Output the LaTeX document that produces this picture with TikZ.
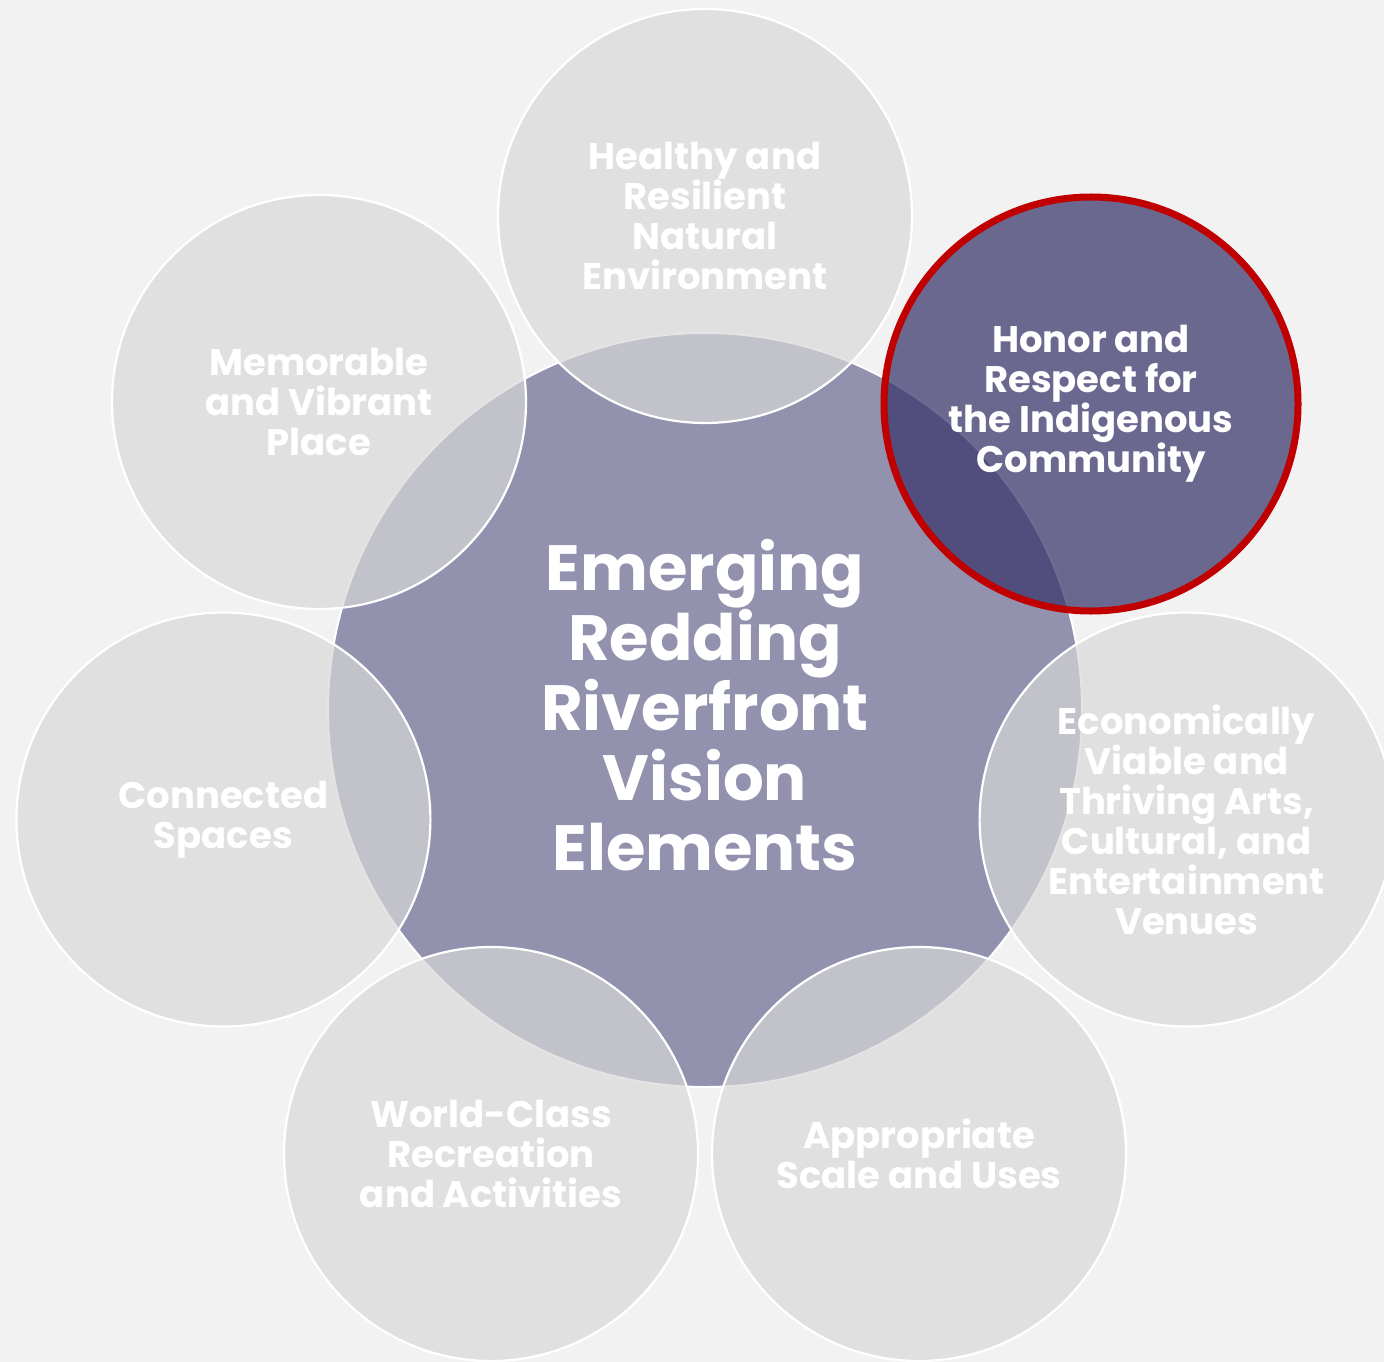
\documentclass[tikz,border=0pt]{standalone}
\usepackage{fontspec}
\setmainfont{Poppins}
\definecolor{bgcol}{RGB}{242,242,242}
\definecolor{centerpurple}{RGB}{146,145,174}
\definecolor{outergray}{RGB}{216,216,216}
\definecolor{honorfill}{RGB}{56,52,107}
\definecolor{honorred}{RGB}{192,0,0}
\begin{document}
\begin{tikzpicture}[x=1bp,y=-1bp,
  hub/.style={circle, minimum size=754bp, inner sep=0pt, fill=centerpurple, draw=white, line width=2bp},
  hubtext/.style={text=white, align=center, inner sep=0pt, font=\fontsize{64bp}{70bp}\selectfont\bfseries},
  petal/.style={circle, minimum size=414bp, inner sep=0pt, fill=outergray, fill opacity=0.69, text opacity=1,
    draw=white, line width=2.2bp, text=white, align=center, font=\fontsize{37bp}{40bp}\selectfont\bfseries},
  honor/.style={petal, fill=honorfill, fill opacity=0.72, draw=honorred, line width=7bp}]
\useasboundingbox (0,0) rectangle (1384,1362);
\clip (0,0) rectangle (1384,1362);
\fill[bgcol] (0,0) rectangle (1384,1362);
\node[hub] (hub) at (705,710) {};
\node[hubtext] (hubtext) at (705,705) {Emerging\\Redding\\Riverfront\\Vision\\Elements};
\node[petal] (healthy) at (705,216) {Healthy and\\Resilient\\Natural\\Environment};
\node[petal] (econ) at (1186.6,819.5) {Economically\\Viable and\\Thriving Arts,\\Cultural, and\\Entertainment\\Venues};
\node[petal] (scale) at (919,1154) {Appropriate\\Scale and Uses};
\node[petal] (world) at (491,1154) {World-Class\\Recreation\\and Activities};
\node[petal] (connected) at (223.4,819.5) {Connected\\Spaces};
\node[petal] (memorable) at (319,402) {Memorable\\and Vibrant\\Place};
\node[honor] (honor) at (1091,404) {Honor and\\Respect for\\the Indigenous\\Community};
\end{tikzpicture}
\end{document}
